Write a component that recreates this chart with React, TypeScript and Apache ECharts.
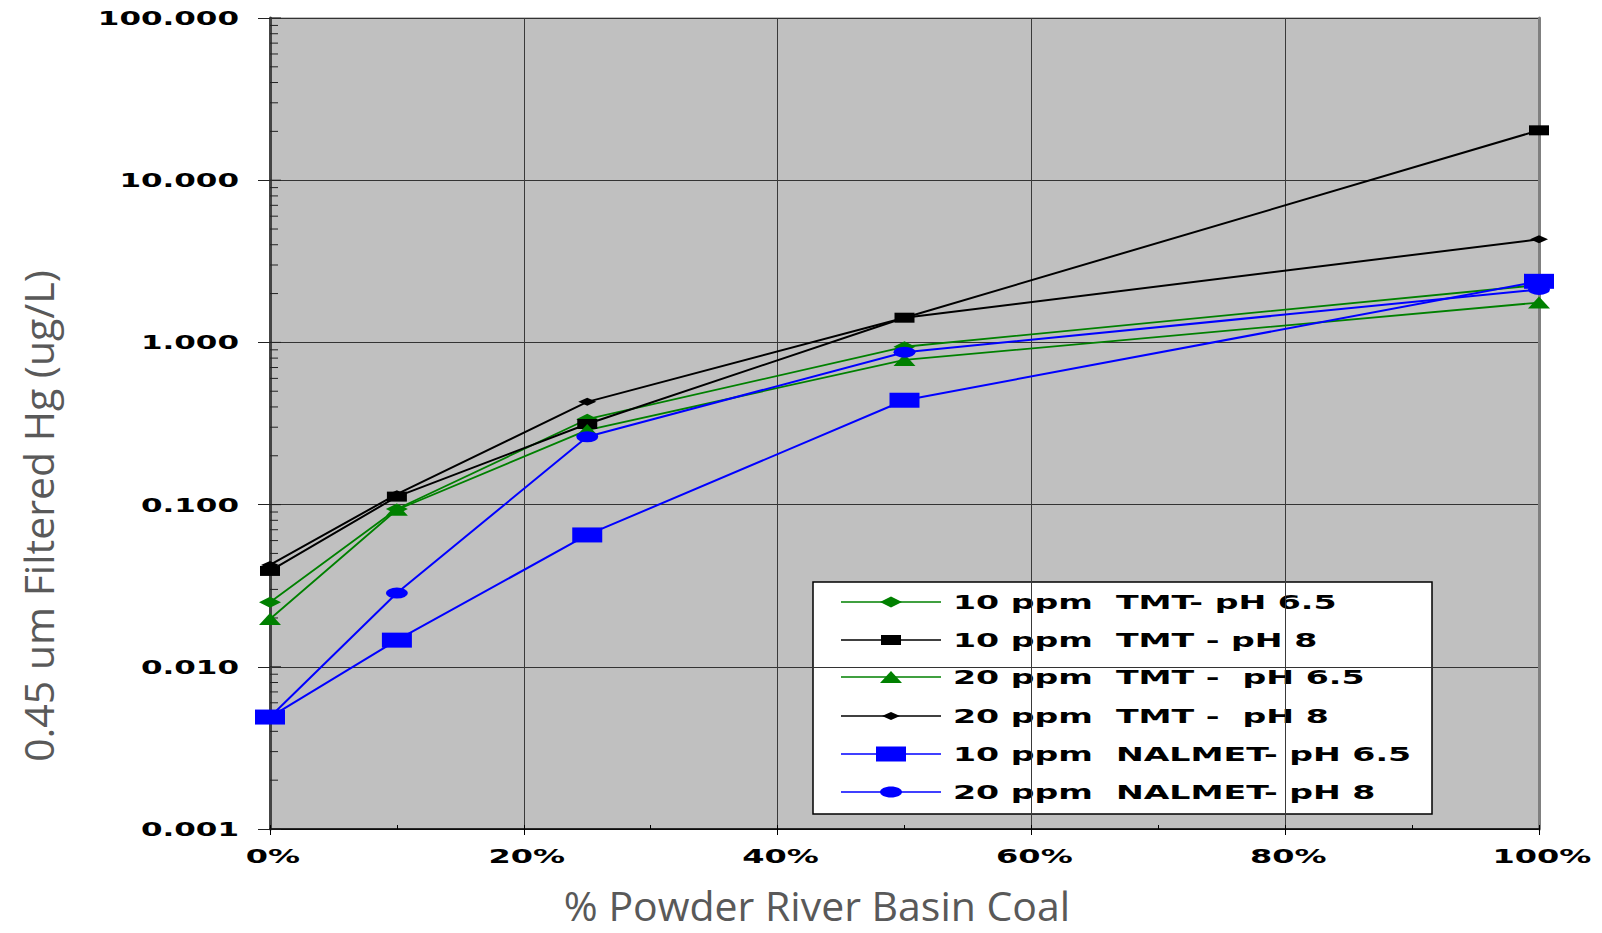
import React, { useEffect, useRef } from "react";
import * as echarts from "echarts";

// ---- data ----
const xValues = [0, 10, 25, 50, 100];
const tmt10ph65 = [0.025, 0.094, 0.336, 0.94, 2.26];
const tmt10ph8 = [0.039, 0.112, 0.314, 1.42, 20.3];
const tmt20ph65 = [0.0197, 0.093, 0.288, 0.78, 1.76];
const tmt20ph8 = [0.0425, 0.116, 0.43, 1.42, 4.32];
const nal10ph65 = [0.0049, 0.0146, 0.065, 0.44, 2.38];
const nal20ph8 = [0.0049, 0.0285, 0.262, 0.87, 2.12];

const seriesNames = [
  "10 ppm  TMT- pH 6.5",
  "10 ppm  TMT - pH 8",
  "20 ppm  TMT -  pH 6.5",
  "20 ppm  TMT -  pH 8",
  "10 ppm  NALMET- pH 6.5",
  "20 ppm  NALMET- pH 8",
];

const yTickValues = [0.001, 0.01, 0.1, 1, 10, 100];
const yTickLabels = ["0.001", "0.010", "0.100", "1.000", "10.000", "100.000"];
const xTickValues = [0, 20, 40, 60, 80, 100];
const xTickLabels = ["0%", "20%", "40%", "60%", "80%", "100%"];

const xTitle = "% Powder River Basin Coal";
const yTitle = "0.45 um Filtered Hg (ug/L)";

const GREEN = "#008000";
const BLACK = "#000000";
const BLUE = "#0000ff";
const ELLIPSE = "path://M0,10 A10,10 0 1,1 20,10 A10,10 0 1,1 0,10 Z";

const styles = [
  { color: GREEN, symbol: "diamond", size: [22, 11], width: 1.8 },
  { color: BLACK, symbol: "rect", size: [20, 10], width: 2 },
  { color: GREEN, symbol: "triangle", size: [22, 12], width: 1.8 },
  { color: BLACK, symbol: "diamond", size: [18, 8], width: 2 },
  { color: BLUE, symbol: "rect", size: [30, 15], width: 2 },
  { color: BLUE, symbol: ELLIPSE, size: [22, 11], width: 2 },
];
const seriesData = [tmt10ph65, tmt10ph8, tmt20ph65, tmt20ph8, nal10ph65, nal20ph8];

const LABEL_FONT = '"DejaVu Sans", "Liberation Sans", sans-serif';

export default function App() {
  const ref = useRef<HTMLDivElement>(null);

  useEffect(() => {
    if (!ref.current) return;
    const chart = echarts.init(ref.current, undefined, { renderer: "svg" });

    // minor / inside ticks of the log axis
    const tickData: number[][] = [];
    for (let e = -3; e <= 2; e++) {
      const d = Math.pow(10, e);
      tickData.push([0, d, 1]);
      if (e < 2) for (let m = 2; m <= 9; m++) tickData.push([0, d * m, 0]);
    }

    const lineSeries = seriesData.map((arr, i) => ({
      type: "line",
      name: seriesNames[i],
      data: xValues.map((x, j) => [x, arr[j]]),
      symbol: styles[i].symbol,
      symbolSize: styles[i].size,
      itemStyle: { color: styles[i].color },
      lineStyle: { color: styles[i].color, width: styles[i].width },
      clip: false,
      z: 3,
    }));

    // legend drawn with graphic elements
    const legX = 813, legY = 582, legW = 619, legH = 232;
    const rowYs = [602, 640, 677, 716, 754, 792];
    const lineX1 = 841, lineX2 = 941, symX = 891, textX = 953;
    const legendChildren: any[] = [
      {
        type: "rect",
        shape: { x: legX, y: legY, width: legW, height: legH },
        style: { fill: "#ffffff", stroke: "#000000", lineWidth: 1.5 },
      },
    ];
    rowYs.forEach((y, i) => {
      const st = styles[i];
      legendChildren.push({
        type: "line",
        shape: { x1: lineX1, y1: y, x2: lineX2, y2: y },
        style: { stroke: st.color, lineWidth: 1.5 },
      });
      const [w, h] = st.size;
      if (st.symbol === "diamond") {
        legendChildren.push({
          type: "polygon",
          shape: { points: [[symX - w / 2, y], [symX, y - h / 2], [symX + w / 2, y], [symX, y + h / 2]] },
          style: { fill: st.color },
        });
      } else if (st.symbol === "triangle") {
        legendChildren.push({
          type: "polygon",
          shape: { points: [[symX - w / 2, y + h / 2], [symX, y - h / 2], [symX + w / 2, y + h / 2]] },
          style: { fill: st.color },
        });
      } else if (st.symbol === "rect") {
        legendChildren.push({
          type: "rect",
          shape: { x: symX - w / 2, y: y - h / 2, width: w, height: h },
          style: { fill: st.color },
        });
      } else {
        legendChildren.push({
          type: "ellipse",
          shape: { cx: symX, cy: y, rx: w / 2, ry: h / 2 },
          style: { fill: st.color },
        });
      }
      legendChildren.push({
        type: "text",
        x: textX,
        y: y,
        scaleX: 1.66,
        style: {
          text: seriesNames[i],
          fontFamily: LABEL_FONT,
          fontWeight: "bold",
          fontSize: 20,
          fill: "#000000",
          align: "left",
          verticalAlign: "middle",
        },
      });
    });

    const option: any = {
      animation: false,
      backgroundColor: "#ffffff",
      grid: {
        left: 270,
        top: 18,
        right: 63,
        bottom: 104,
        show: true,
        backgroundColor: "#c0c0c0",
        borderColor: "#808080",
        borderWidth: 1,
      },
      xAxis: [
        {
          type: "value",
          min: 0,
          max: 100,
          interval: 20,
          axisLine: { show: true, onZero: false, lineStyle: { color: "#000", width: 1.5 } },
          axisTick: { show: true, length: 6, lineStyle: { color: "#000" } },
          axisLabel: { show: false },
          splitLine: { show: true, lineStyle: { color: "#3a3a3a", width: 1 } },
        },
        {
          type: "value",
          min: 0,
          max: 100,
          interval: 10,
          position: "bottom",
          axisLine: { show: false },
          axisTick: { show: true, inside: true, length: 4, lineStyle: { color: "#000" } },
          axisLabel: { show: false },
          splitLine: { show: false },
        },
      ],
      yAxis: [
        {
          type: "log",
          logBase: 10,
          min: 0.001,
          max: 100,
          axisLine: { show: true, onZero: false, lineStyle: { color: "#444", width: 3 } },
          axisTick: { show: true, length: 12, lineStyle: { color: "#222" } },
          axisLabel: { show: false },
          splitLine: { show: true, lineStyle: { color: "#333", width: 1 } },
        },
        {
          type: "log",
          logBase: 10,
          min: 0.001,
          max: 100,
          position: "right",
          axisLine: { show: true, onZero: false, lineStyle: { color: "#808080", width: 3 } },
          axisTick: { show: false },
          axisLabel: { show: false },
          splitLine: { show: false },
        },
      ],
      series: [
        {
          type: "custom",
          name: "yticks",
          coordinateSystem: "cartesian2d",
          xAxisIndex: 0,
          yAxisIndex: 0,
          data: tickData,
          clip: false,
          silent: true,
          z: 2,
          renderItem: (params: any, api: any) => {
            const p = api.coord([0, api.value(1)]);
            const len = api.value(2) ? 11 : 8;
            return {
              type: "line",
              shape: { x1: p[0], y1: p[1], x2: p[0] + len, y2: p[1] },
              style: { stroke: "#222", lineWidth: 1 },
            };
          },
        },
        {
          type: "custom",
          name: "ylabels",
          coordinateSystem: "cartesian2d",
          xAxisIndex: 0,
          yAxisIndex: 0,
          data: yTickValues.map((v, i) => [0, v, i]),
          clip: false,
          silent: true,
          z: 5,
          renderItem: (params: any, api: any) => {
            const p = api.coord([0, api.value(1)]);
            return {
              type: "text",
              x: p[0] - 31,
              y: p[1],
              scaleX: 1.55,
              style: {
                text: yTickLabels[api.value(2)],
                fontFamily: LABEL_FONT,
                fontWeight: "bold",
                fontSize: 20,
                fill: "#000",
                align: "right",
                verticalAlign: "middle",
              },
            };
          },
        },
        {
          type: "custom",
          name: "xlabels",
          coordinateSystem: "cartesian2d",
          xAxisIndex: 0,
          yAxisIndex: 0,
          data: xTickValues.map((v, i) => [v, 0.001, i]),
          clip: false,
          silent: true,
          z: 5,
          renderItem: (params: any, api: any) => {
            const p = api.coord([api.value(0), api.value(1)]);
            return {
              type: "text",
              x: p[0] + 3,
              y: p[1] + 27,
              scaleX: 1.6,
              style: {
                text: xTickLabels[api.value(2)],
                fontFamily: LABEL_FONT,
                fontWeight: "bold",
                fontSize: 20,
                fill: "#000",
                align: "center",
                verticalAlign: "middle",
              },
            };
          },
        },
        ...lineSeries,
      ],
      graphic: [
        {
          type: "text",
          x: 817,
          y: 905,
          style: {
            text: xTitle,
            fontFamily: '"Open Sans", sans-serif',
            fontSize: 41,
            lineHeight: 44,
            fill: "#595959",
            align: "center",
            verticalAlign: "middle",
          },
        },
        {
          type: "text",
          x: 38,
          y: 516,
          rotation: Math.PI / 2,
          style: {
            text: yTitle,
            fontFamily: '"Open Sans", sans-serif',
            fontSize: 41,
            lineHeight: 44,
            fill: "#595959",
            align: "center",
            verticalAlign: "middle",
          },
        },
        { type: "group", z: 20, children: legendChildren },
      ],
    };

    chart.setOption(option);
    return () => chart.dispose();
  }, []);

  return (
    <div
      ref={ref}
      style={{ position: "absolute", left: 0, top: 0, width: 1602, height: 933 }}
    />
  );
}
